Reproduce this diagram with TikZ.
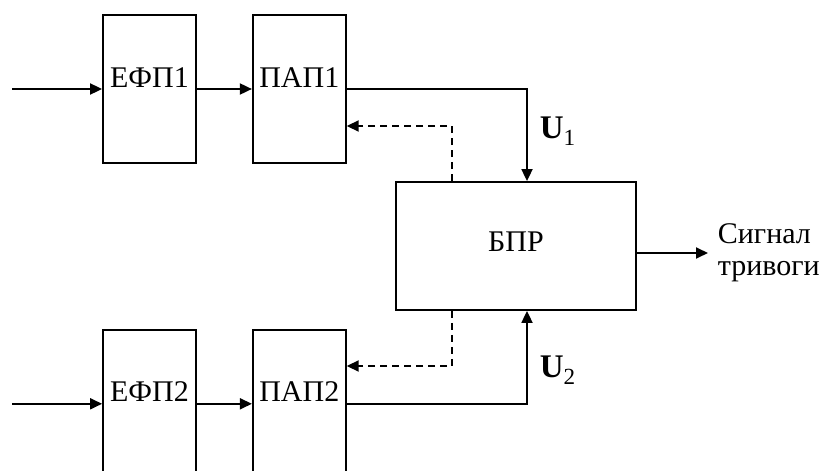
\documentclass[tikz,border=0pt]{standalone}
\usepackage{fontspec}
\setmainfont{Liberation Serif}
\usetikzlibrary{
        arrows.meta,
        positioning
    }
\tikzset{>={Triangle[length=12pt,width=11pt]}}
\tikzset{unit/.style={draw,minimum width=93pt,minimum height=148pt,inner sep=0pt,text height=20pt,text depth=24pt}}
\tikzset{decision/.style={draw,minimum width=240pt,minimum height=128pt,text depth=8pt}}
\tikzset{feedback/.style={dash pattern=on 7pt off 5pt}}
\tikzset{voltage/.style={right=12pt,inner sep=0pt,font=\fontsize{33}{36}\selectfont}}

\begin{document}
\begin{tikzpicture}[x=1pt,y=-1pt,line width=1.8pt,font=\fontsize{30}{32}\selectfont]
            \useasboundingbox (0,0) rectangle (825,471);
            \node[unit] (efp1) at (149.5,89) {ЕФП1};
            \node[unit] (pap1) [right=55pt of efp1] {ПАП1};
            \node[unit] (efp2) [below=165pt of efp1] {ЕФП2};
            \node[unit] (pap2) [right=55pt of efp2] {ПАП2};
            \node[decision] (bpr) at (516,246) {БПР};
            \node[align=left,anchor=west,inner xsep=9pt,inner ysep=0pt] (signal) at (708,253) {Сигнал\\тривоги};
            \coordinate (in) at (12,0);
            \coordinate (u) at (527,0);
            \coordinate (fb1) at (452,126);
            \coordinate (fb2) at (452,366);
            \draw[->] (efp1.west -| in) -- (efp1.west);
            \draw[->] (efp2.west -| in) -- (efp2.west);
            \draw[->] (efp1) -- (pap1);
            \draw[->] (efp2) -- (pap2);
            \draw[->] (pap1.east) -| node[pos=0.73,voltage] {\textbf{U}\textsubscript{1}} (bpr.north -| u);
            \draw[->] (pap2.east) -| node[pos=0.68,voltage] {\textbf{U}\textsubscript{2}} (bpr.south -| u);
            \draw[feedback,->] (bpr.north -| fb1) -- (fb1) -- (pap1.east |- fb1);
            \draw[feedback,->] (bpr.south -| fb2) -- (fb2) -- (pap2.east |- fb2);
            \draw[->] (bpr.east |- signal.west) -- (signal.west);
        \end{tikzpicture}
\end{document}
